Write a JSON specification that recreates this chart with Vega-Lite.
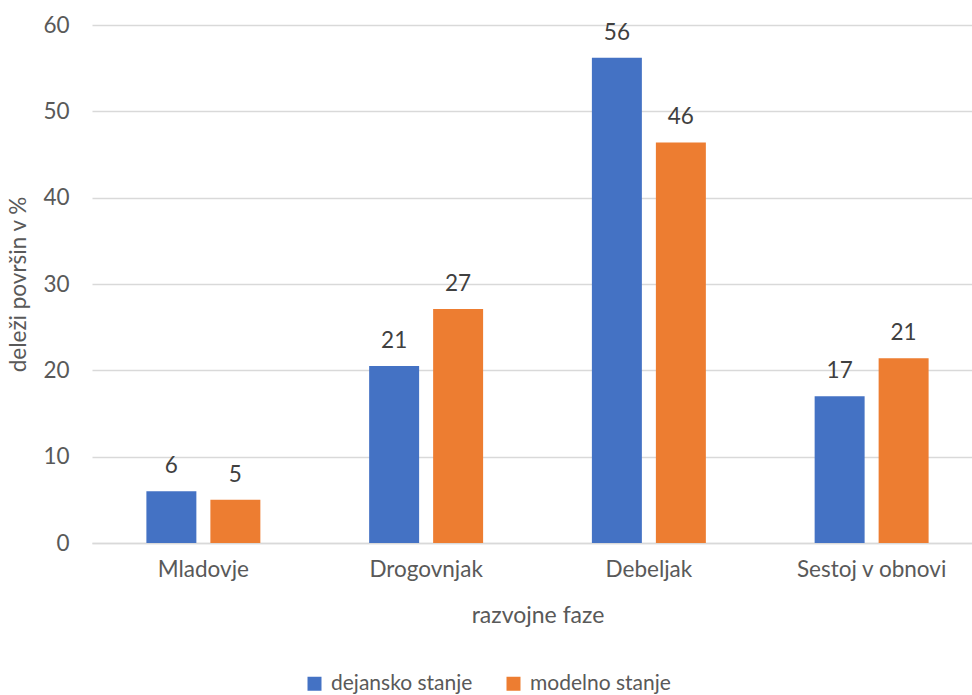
{
  "$schema": "https://vega.github.io/schema/vega-lite/v6.json",
  "autosize": "none",
  "width": 891,
  "height": 518,
  "padding": {"left": 92, "top": 25, "right": 0, "bottom": 152},
  "background": "white",
  "config": {
    "view": {"stroke": null},
    "font": "Lato",
    "axis": {"labelFont": "Lato", "titleFont": "Lato", "labelColor": "#595959", "titleColor": "#595959", "titleFontWeight": "normal"},
    "legend": {"labelFont": "Lato"}
  },
  "data": {
    "values": [
      {"faza": "Mladovje", "stanje": "dejansko stanje", "delez": 6.0},
      {"faza": "Mladovje", "stanje": "modelno stanje", "delez": 5.0},
      {"faza": "Drogovnjak", "stanje": "dejansko stanje", "delez": 20.5},
      {"faza": "Drogovnjak", "stanje": "modelno stanje", "delez": 27.1},
      {"faza": "Debeljak", "stanje": "dejansko stanje", "delez": 56.2},
      {"faza": "Debeljak", "stanje": "modelno stanje", "delez": 46.4},
      {"faza": "Sestoj v obnovi", "stanje": "dejansko stanje", "delez": 17.0},
      {"faza": "Sestoj v obnovi", "stanje": "modelno stanje", "delez": 21.4}
    ]
  },
  "encoding": {
    "x": {
      "field": "faza", "type": "nominal",
      "sort": ["Mladovje", "Drogovnjak", "Debeljak", "Sestoj v obnovi"],
      "scale": {"paddingInner": 0, "paddingOuter": 0},
      "axis": {"title": "razvojne faze", "labelAngle": 0, "labelFontSize": 22.5, "titleFontSize": 23, "ticks": false, "domainColor": "#D9D9D9", "domainWidth": 1.5, "labelPadding": 15, "titlePadding": 24}
    },
    "xOffset": {
      "field": "stanje", "type": "nominal",
      "scale": {"paddingInner": 0.219, "paddingOuter": 0.85}
    },
    "y": {
      "field": "delez", "type": "quantitative",
      "scale": {"domain": [0, 60]},
      "axis": {"title": "deleži površin v %", "values": [0, 10, 20, 30, 40, 50, 60], "labelFontSize": 22.5, "titleFontSize": 22.5, "ticks": false, "domain": false, "gridColor": "#D9D9D9", "gridWidth": 1.5, "labelPadding": 23, "titlePadding": 12}
    }
  },
  "layer": [
    {
      "mark": {"type": "bar"},
      "encoding": {
        "color": {
          "field": "stanje", "type": "nominal",
          "scale": {"domain": ["dejansko stanje", "modelno stanje"], "range": ["#4472C4", "#ED7D31"]},
          "legend": {"title": null, "orient": "none", "direction": "horizontal", "legendX": 212, "legendY": 648, "symbolType": "square", "symbolSize": 196, "symbolStrokeWidth": 0, "labelFontSize": 21, "labelColor": "#595959", "labelOffset": 6, "columnPadding": 30}
        }
      }
    },
    {
      "mark": {"type": "text", "baseline": "alphabetic", "dy": -18, "fontSize": 22.5, "color": "#404040"},
      "encoding": {
        "text": {"field": "delez", "type": "quantitative", "format": ".0f"}
      }
    }
  ]
}
